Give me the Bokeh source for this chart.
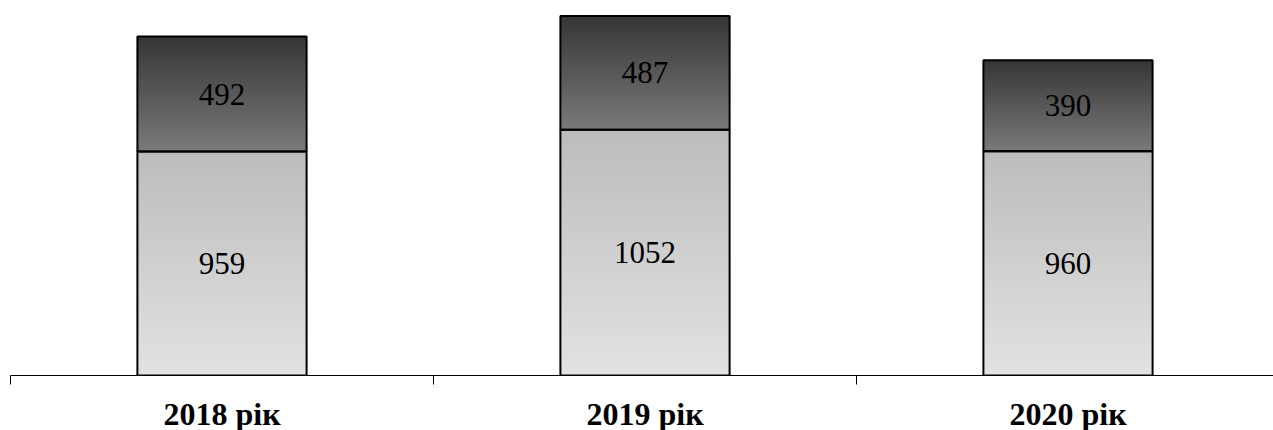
import numpy as np
from bokeh.plotting import figure
from bokeh.models import ColumnDataSource, FixedTicker, Range1d
from bokeh.core.properties import value
from bokeh.embed import file_html
from bokeh.resources import INLINE

# ---- data ----
years = ["2018 рік", "2019 рік", "2020 рік"]
lower = [959, 1052, 960]
upper = [492, 487, 390]

x_pos = [i + 0.5 for i in range(len(years))]
bar_w = 0.40

FW = 1263
p = figure(frame_width=FW, frame_height=367, output_backend="svg",
           toolbar_location=None, x_range=Range1d(0, FW / 423),
           y_range=Range1d(0, 367 / 0.2336),
           min_border_left=10, min_border_right=0, min_border_top=8,
           min_border_bottom=0,
           background_fill_color="white", border_fill_color="white")
p.outline_line_color = None
p.xgrid.visible = False
p.ygrid.visible = False
p.yaxis.visible = False


def hexgray(v):
    v = int(round(v))
    return "#%02x%02x%02x" % (v, v, v)


def gradient_strips(bottoms, tops, c_bottom, c_top, n=80):
    L, R, B, T, C = [], [], [], [], []
    for x, b0, b1 in zip(x_pos, bottoms, tops):
        edges = np.linspace(b0, b1, n + 1)
        step = (b1 - b0) / n
        for k in range(n):
            t = (k + 0.5) / n
            L.append(x - bar_w / 2)
            R.append(x + bar_w / 2)
            B.append(edges[k])
            T.append(min(b1, edges[k + 1] + step * 0.8))
            C.append(hexgray(c_bottom + (c_top - c_bottom) * t))
    return ColumnDataSource(dict(left=L, right=R, bottom=B, top=T, color=C))


low_b = [0] * len(lower)
low_t = lower
up_b = lower
up_t = [a + b for a, b in zip(lower, upper)]

p.quad(left="left", right="right", bottom="bottom", top="top",
       source=gradient_strips(low_b, low_t, 0xe2, 0xbc),
       fill_color="color", line_color=None)
p.quad(left="left", right="right", bottom="bottom", top="top",
       source=gradient_strips(up_b, up_t, 0x7a, 0x36),
       fill_color="color", line_color=None)

# outlines
outl = ColumnDataSource(dict(
    left=[x - bar_w / 2 for x in x_pos] * 2,
    right=[x + bar_w / 2 for x in x_pos] * 2,
    bottom=low_b + up_b,
    top=list(low_t) + up_t))
p.quad(left="left", right="right", bottom="bottom", top="top", source=outl,
       fill_alpha=0, line_color="black", line_width=2)

# value labels
lab = ColumnDataSource(dict(
    x=x_pos * 2,
    y=[(a + b) / 2 for a, b in zip(low_b, low_t)] + [(a + b) / 2 for a, b in zip(up_b, up_t)],
    t=[str(v) for v in lower] + [str(v) for v in upper]))
p.text(x="x", y="y", text="t", source=lab, text_align="center",
       text_baseline="middle", text_font=value("Liberation Serif"),
       text_font_size="31px", text_color="black")

# x axis: ticks at boundaries (minor), labels at centers
p.xaxis.ticker = FixedTicker(ticks=x_pos, minor_ticks=[0, 1, 2, 3])
p.xaxis.major_label_overrides = {x: y for x, y in zip(x_pos, years)}
p.xaxis.major_tick_out = 0
p.xaxis.major_tick_in = 0
p.xaxis.minor_tick_out = 9
p.xaxis.minor_tick_in = 0
p.xaxis.minor_tick_line_color = "black"
p.xaxis.axis_line_color = "black"
p.xaxis.axis_line_width = 1
p.xaxis.major_label_text_font = "Liberation Serif"
p.xaxis.major_label_text_font_style = "bold"
p.xaxis.major_label_text_font_size = "32px"
p.xaxis.major_label_text_color = "black"
p.xaxis.major_label_standoff = 11

open("out.html", "w").write(file_html(p, INLINE))
